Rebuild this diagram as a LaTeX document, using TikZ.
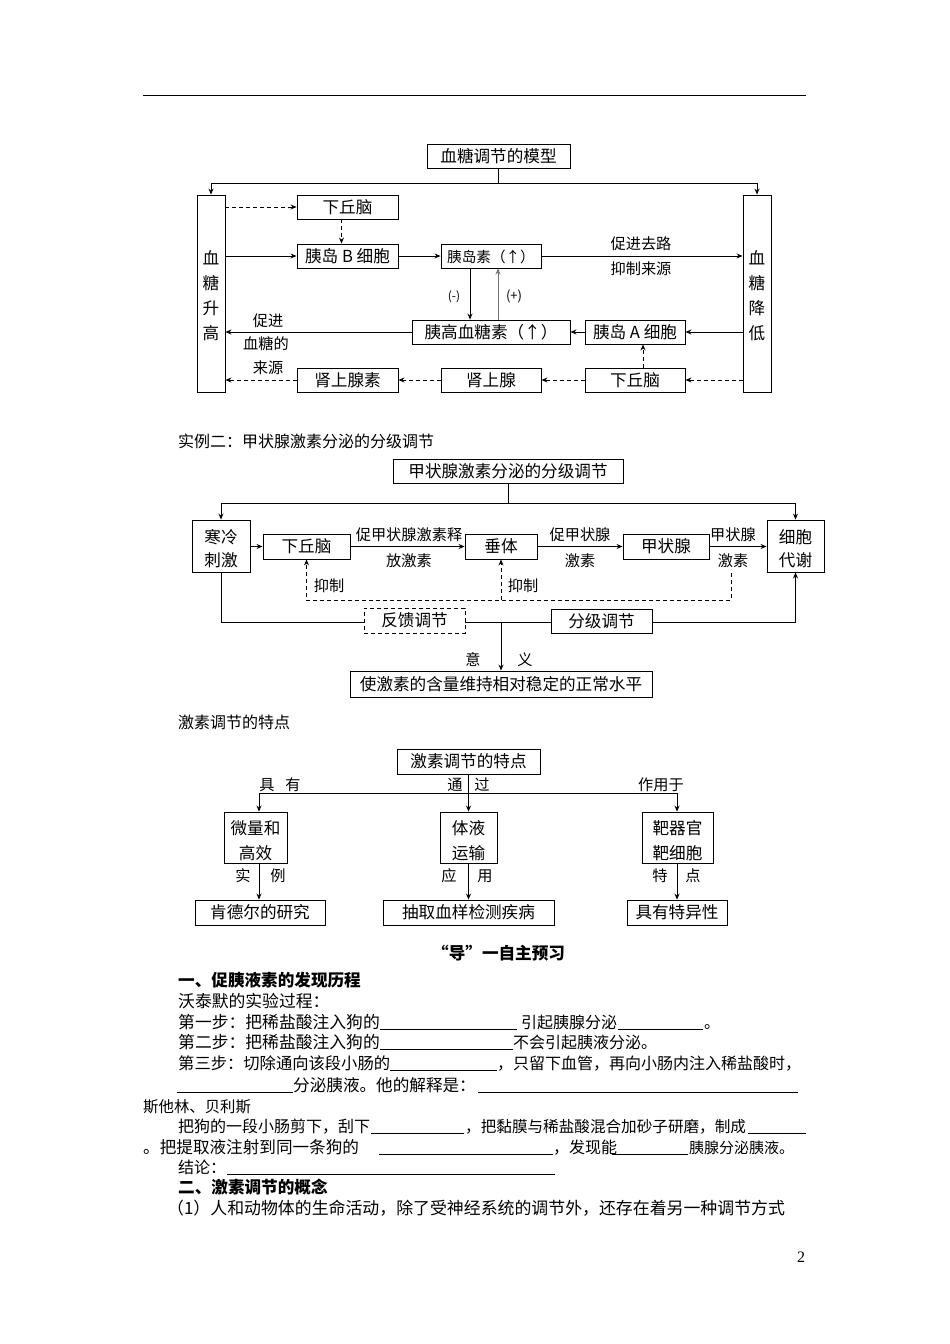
\documentclass[tikz,border=0pt]{standalone}
\usepackage{fontspec}
\setmainfont{Noto Sans CJK SC}
\newfontfamily\numfont{Liberation Serif}
\usetikzlibrary{arrows.meta}
\newcommand\fsz{\fontsize{16}{19}\selectfont}
\newcommand\fbx{\fontsize{16.6}{19}\selectfont}
\newcommand\flab{\fontsize{15.2}{17}\selectfont}
\tikzset{
 bx/.style={draw, line width=0.9pt, inner sep=0pt, font=\fbx, fill=white, text height=14pt, text depth=2pt},
 ct/.style={inner sep=0pt, font=\fbx, text height=14pt, text depth=2pt},
 lb/.style={inner sep=0pt, font=\flab, text height=13pt, text depth=2pt},
 tx/.style={anchor=west, inner sep=0pt, font=\fsz, text height=14pt, text depth=2pt},
 ar/.style={line width=0.9pt, -{Stealth[length=6pt,width=5pt]}},
 dar/.style={ar, dash pattern=on 4pt off 3pt},
 ln/.style={line width=0.9pt},
 bl/.style={line width=0.8pt},
}
\begin{document}
\begin{tikzpicture}[x=1pt,y=-1pt]
\useasboundingbox (0,0) rectangle (950,1344);
\draw[line width=1pt] (143,95) -- (806,95);

% ---------- Diagram 1 ----------
\node[bx, minimum width=143pt, minimum height=24pt] (m) at (498.5,156) {血糖调节的模型};
\node[bx, minimum width=28pt, minimum height=197pt] (L) at (211,293.5) {};
\node[bx, minimum width=28pt, minimum height=197pt] (R) at (757,293.5) {};
\foreach \c [count=\i] in {血,糖,升,高} \node[ct] (Lt\i) at (211,233+25*\i) {\c};
\foreach \c [count=\i] in {血,糖,降,低} \node[ct] (Rt\i) at (757,233+25*\i) {\c};
\coordinate (mj) at (498.5,183);
\draw[ln] (m.south) -- (mj);
\draw[ar] (mj) -| (L.north);
\draw[ar] (mj) -| (R.north);

\node[bx, minimum width=101pt, minimum height=24pt] (hq1) at (347.5,207) {下丘脑};
\node[bx, minimum width=101pt, minimum height=24pt] (bB) at (347.5,256) {胰岛 B 细胞};
\node[bx, minimum width=100pt, minimum height=24pt, font=\fontsize{14.6}{17}\selectfont] (ins) at (491,256) {胰岛素（↑）};
\node[bx, minimum width=158pt, minimum height=24pt] (gcg) at (491,332) {胰高血糖素（↑）};
\node[bx, minimum width=100pt, minimum height=24pt] (aA) at (635,332) {胰岛 A 细胞};
\node[bx, minimum width=100pt, minimum height=24pt] (hq2) at (635,380) {下丘脑};
\node[bx, minimum width=100pt, minimum height=24pt] (adr) at (491,380) {肾上腺};
\node[bx, minimum width=101pt, minimum height=24pt] (epi) at (347.5,380) {肾上腺素};

\draw[dar] (L.east |- hq1) -- (hq1.west);
\draw[dar] ([xshift=-6pt]hq1.south) -- ([xshift=-6pt]bB.north);
\draw[ar] (L.east |- bB) -- (bB.west);
\draw[ar] (bB) -- (ins);
\draw[ar] (ins.east) -- (R.west |- ins.east);
\node[lb] (l1) at (641,244) {促进去路};
\node[lb] (l2) at (641,269) {抑制来源};
\draw[ar] ([xshift=-21pt]ins.south) -- ([xshift=-21pt]gcg.north);
\draw[ar, draw=black!55] ([xshift=7pt]gcg.north) -- ([xshift=7pt]ins.south);
\node[lb, font=\fontsize{12}{14}\selectfont] (mi) at (454,295) {(-)};
\node[lb, font=\fontsize{13}{15}\selectfont] (pl) at (514,295) {(+)};
\draw[ar] (gcg.west) -- (L.east |- gcg.west);
\node[lb] (l3) at (268,321) {促进};
\node[lb] (l4) at (266,344) {血糖的};
\node[lb] (l5) at (268,368) {来源};
\draw[ar] (aA) -- (gcg);
\draw[ar] (R.west |- aA) -- (aA.east);
\draw[dar] (R.west |- hq2) -- (hq2.east);
\draw[dar] (hq2) -- (adr);
\draw[dar] (adr) -- (epi);
\draw[dar] (epi.west) -- (L.east |- epi);
\draw[dar] ([xshift=8pt]hq2.north) -- ([xshift=8pt]aA.south);

% ---------- Diagram 2 ----------
\node[tx] (s2) at (178,441) {实例二：甲状腺激素分泌的分级调节};
\node[bx, minimum width=230pt, minimum height=24pt] (t2) at (508,471.5) {甲状腺激素分泌的分级调节};
\coordinate (t2j) at (508,503);
\draw[ln] (t2.south) -- (t2j);
\node[bx, minimum width=58pt, minimum height=52pt] (cold) at (221,546) {};
\node[ct] (cold1) at (221,537) {寒冷};
\node[ct] (cold2) at (221,560) {刺激};
\node[bx, minimum width=57pt, minimum height=52pt] (cell) at (795.5,546) {};
\node[ct] (cell1) at (795.5,537) {细胞};
\node[ct] (cell2) at (795.5,560) {代谢};
\draw[ar] (t2j) -| (cold.north);
\draw[ar] (t2j) -| (cell.north);
\node[bx, minimum width=87pt, minimum height=25pt] (hyp) at (306.5,546.5) {下丘脑};
\node[bx, minimum width=72pt, minimum height=25pt] (pit) at (501,546.5) {垂体};
\node[bx, minimum width=86pt, minimum height=25pt] (thy) at (666,546.5) {甲状腺};
\draw[ar] (cold.east |- hyp) -- (hyp.west);
\draw[ar] (hyp) -- (pit);
\draw[ar] (pit) -- (thy);
\draw[ar] (thy.east) -- (cell.west |- thy.east);
\node[lb] (k1) at (409,535) {促甲状腺激素释};
\node[lb] (k2) at (409,561) {放激素};
\node[lb] (k3) at (580,535) {促甲状腺};
\node[lb] (k4) at (580,561) {激素};
\node[lb] (k5) at (733,535) {甲状腺};
\node[lb] (k6) at (733,561) {激素};
\coordinate (fb1) at (731,573);
\coordinate (fb2) at (731,600);
\draw[dar] (fb1) -- (fb2) -| (hyp.south);
\draw[dar] (pit.south |- fb2) -- (pit.south);
\node[lb] (y1) at (329,586) {抑制};
\node[lb] (y2) at (523,586) {抑制};
\coordinate (b1) at (221,622);
\coordinate (b2) at (795.5,622);
\draw[ar] (cold.south) -- (b1) -- (b2) -- (cell.south);
\node[bx, dash pattern=on 4pt off 3pt, minimum width=101pt, minimum height=25pt] (fbk) at (414.5,620.5) {反馈调节};
\node[bx, minimum width=101pt, minimum height=24pt] (grd) at (601.5,621) {分级调节};
\node[bx, minimum width=302pt, minimum height=26pt] (goal) at (501,684) {使激素的含量维持相对稳定的正常水平};
\coordinate (b3) at (501,622);
\draw[ar] (b3) -- (goal.north);
\node[lb] (yi1) at (473,660) {意};
\node[lb] (yi2) at (525,660) {义};

% ---------- Diagram 3 ----------
\node[tx] (s3) at (178,722) {激素调节的特点};
\node[bx, minimum width=143pt, minimum height=25pt] (t3) at (468.5,761.5) {激素调节的特点};
\coordinate (h3) at (468.5,793);
\coordinate (hl) at (259,793);
\coordinate (hr) at (677,793);
\draw[ln] (t3.south) -- (h3);
\draw[ln] (hl) -- (hr);
\node[bx, minimum width=63pt, minimum height=51pt] (c1) at (255.5,837.5) {};
\node[ct] (c1a) at (255.5,828) {微量和};
\node[ct] (c1b) at (255.5,853) {高效};
\node[bx, minimum width=57pt, minimum height=51pt] (c2) at (468.5,837.5) {};
\node[ct] (c2a) at (468.5,828) {体液};
\node[ct] (c2b) at (468.5,853) {运输};
\node[bx, minimum width=71pt, minimum height=51pt] (c3) at (677.5,837.5) {};
\node[ct] (c3a) at (677.5,828) {靶器官};
\node[ct] (c3b) at (677.5,853) {靶细胞};
\node[bx, minimum width=130pt, minimum height=25pt] (d1) at (260,912.5) {肯德尔的研究};
\node[bx, minimum width=171pt, minimum height=25pt] (d2) at (468.5,912.5) {抽取血样检测疾病};
\node[bx, minimum width=100pt, minimum height=25pt] (d3) at (677,912.5) {具有特异性};
\draw[ar] (hl) -- (hl |- c1.north);
\draw[ar] (h3) -- (h3 |- c2.north);
\draw[ar] (hr) -- (hr |- c3.north);
\draw[ar] (hl |- c1.south) -- (hl |- d1.north);
\draw[ar] (h3 |- c2.south) -- (h3 |- d2.north);
\draw[ar] (hr |- c3.south) -- (hr |- d3.north);
\node[lb] (p1) at (267,785) {具};
\node[lb] (p2) at (293,785) {有};
\node[lb] (p3) at (455,785) {通};
\node[lb] (p4) at (482,785) {过};
\node[lb] (p5) at (661,785) {作用于};
\node[lb] (q1) at (243,876) {实};
\node[lb] (q2) at (278,876) {例};
\node[lb] (q3) at (449,876) {应};
\node[lb] (q4) at (485,876) {用};
\node[lb] (q5) at (660,876) {特};
\node[lb] (q6) at (693,876) {点};

% ---------- Text section ----------
\node[tx, font=\fontsize{16.6}{19}\selectfont\bfseries] (h0) at (432,953) {“导”一自主预习};
\node[tx, font=\fontsize{16.6}{19}\selectfont\bfseries] (h1) at (178,980) {一、促胰液素的发现历程};
\node[tx, font=\fontsize{16.8}{19}\selectfont] (a0) at (178,1001) {沃泰默的实验过程：};
\node[tx, font=\fontsize{16.8}{19}\selectfont] (a1) at (178,1022) {第一步：把稀盐酸注入狗的};
\draw[bl] (380,1029) -- (517,1029);
\node[tx] (a1b) at (521,1022) {引起胰腺分泌};
\draw[bl] (618,1029) -- (703,1029);
\node[tx] (a1c) at (704,1022) {。};
\node[tx, font=\fontsize{16.8}{19}\selectfont] (a2) at (178,1042) {第二步：把稀盐酸注入狗的};
\draw[bl] (380,1049) -- (513,1049);
\node[tx] (a2b) at (513,1042) {不会引起胰液分泌。};
\node[tx, font=\fontsize{16.3}{19}\selectfont] (a3) at (178,1063) {第三步：切除通向该段小肠的};
\draw[bl] (390,1070) -- (497,1070);
\node[tx] (a3b) at (497,1063) {，只留下血管，再向小肠内注入稀盐酸时，};
\draw[bl] (177,1092) -- (293,1092);
\node[tx, font=\fontsize{16.6}{19}\selectfont] (a4) at (293,1085) {分泌胰液。他的解释是：};
\draw[bl] (478,1092) -- (798,1092);
\node[tx, font=\fontsize{15.4}{19}\selectfont] (a5) at (143,1106) {斯他林、贝利斯};
\node[tx] (a6) at (178,1126) {把狗的一段小肠剪下，刮下};
\draw[bl] (371,1133) -- (464,1133);
\node[tx, font=\fontsize{15.6}{19}\selectfont] (a6b) at (465,1126) {，把黏膜与稀盐酸混合加砂子研磨，制成};
\draw[bl] (748,1133) -- (806,1133);
\node[tx, font=\fontsize{16.6}{19}\selectfont] (a7) at (143,1147) {。把提取液注射到同一条狗的};
\draw[bl] (379,1154) -- (553,1154);
\node[tx] (a7b) at (553,1147) {，发现能};
\draw[bl] (612,1154) -- (688,1154);
\node[tx, font=\fontsize{15}{19}\selectfont] (a7c) at (689,1147) {胰腺分泌胰液。};
\node[tx] (a8) at (178,1167) {结论：};
\draw[bl] (227,1174) -- (555,1174);
\node[tx, font=\fontsize{16.6}{19}\selectfont\bfseries] (h2) at (178,1187) {二、激素调节的概念};
\node[tx, font=\fontsize{16.9}{19}\selectfont] (a9) at (167,1208) {（1）人和动物体的生命活动，除了受神经系统的调节外，还存在着另一种调节方式};
\node[inner sep=0pt, font=\numfont\fontsize{16}{19}\selectfont] (pg) at (801,1257) {2};
\end{tikzpicture}
\end{document}
